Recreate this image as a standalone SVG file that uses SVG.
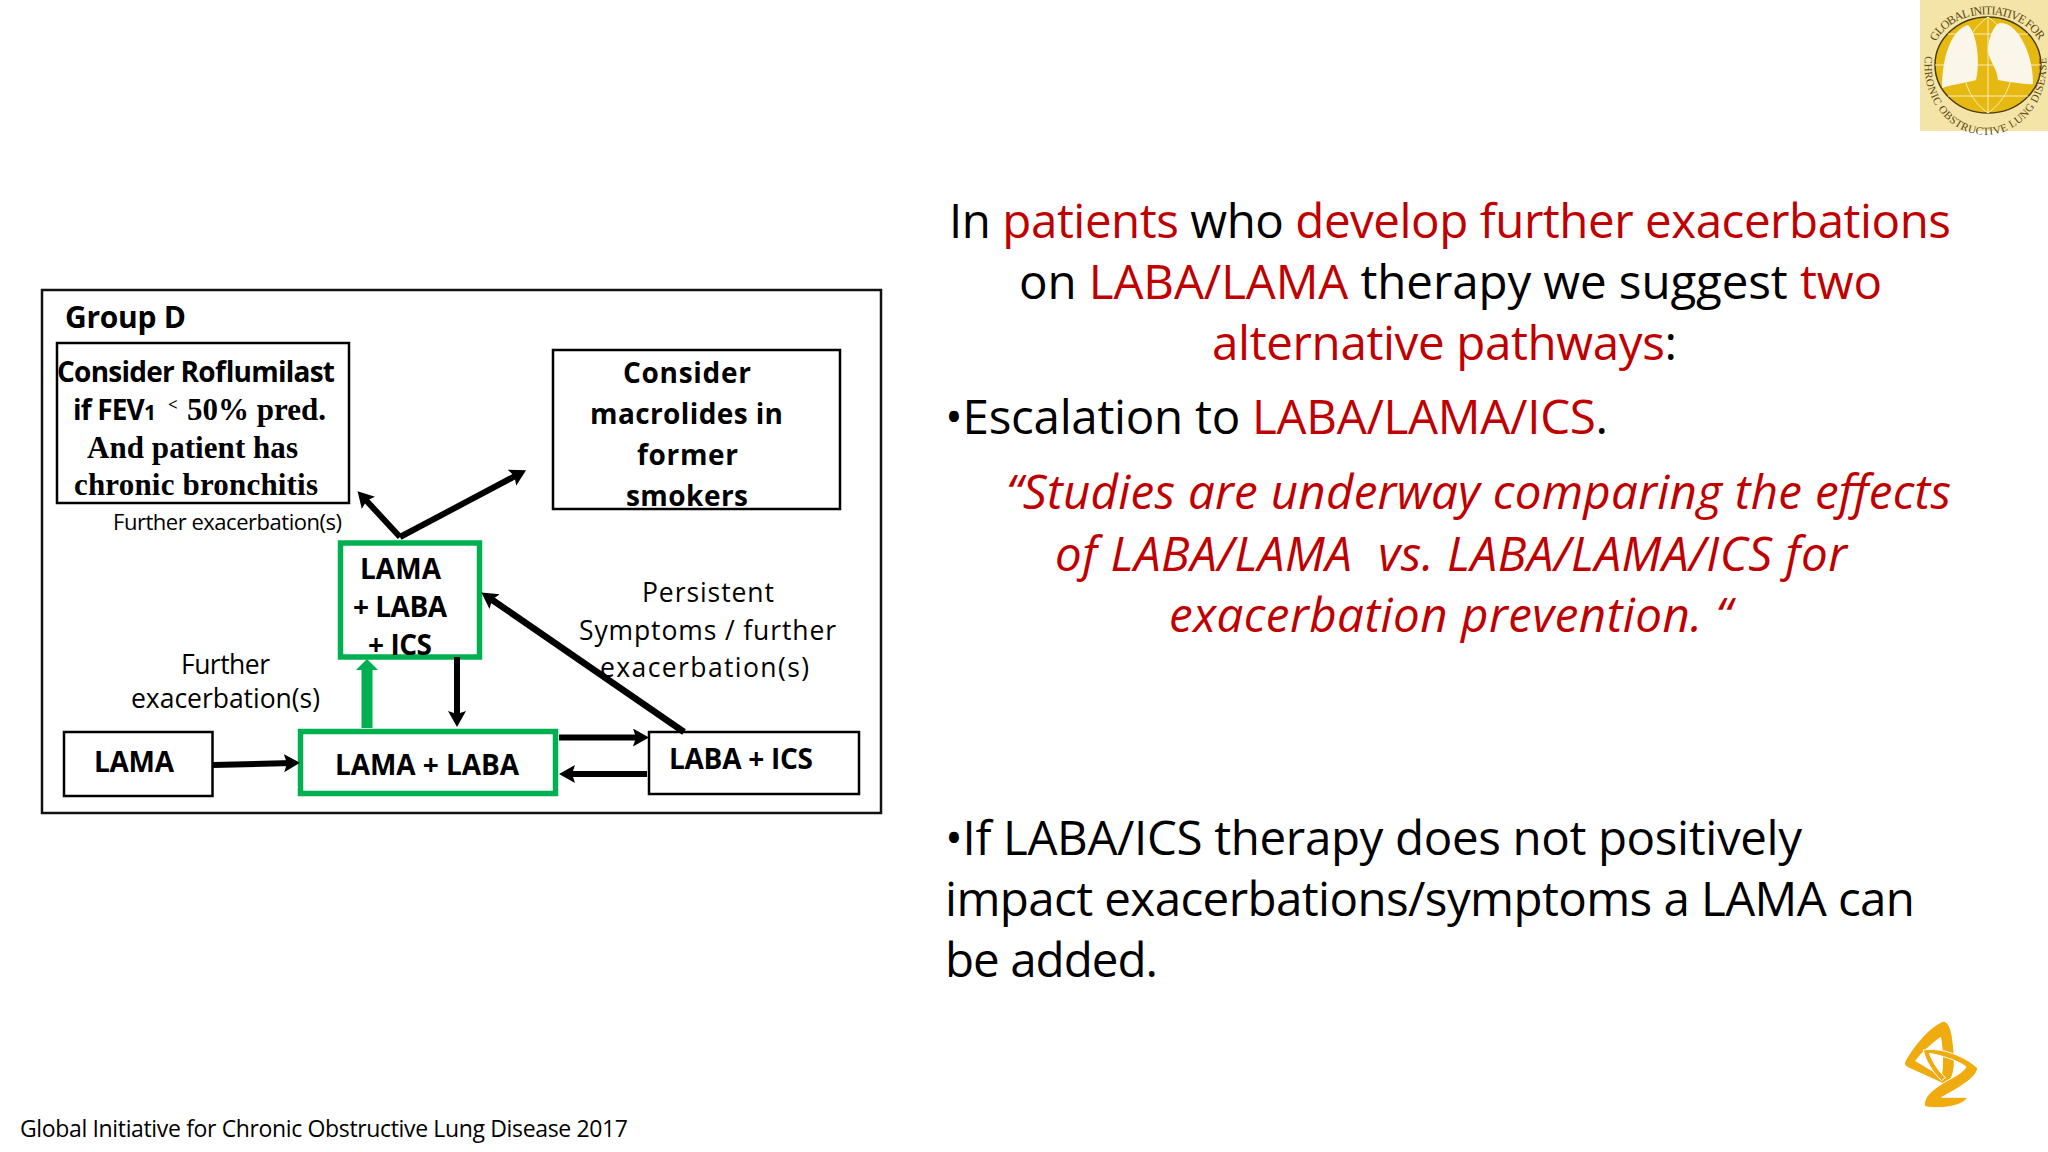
<svg xmlns="http://www.w3.org/2000/svg" xmlns:xlink="http://www.w3.org/1999/xlink" width="2048" height="1152" viewBox="0 0 2048 1152">
<style>
text{font-family:"Open Sans","Noto Sans","Liberation Sans",sans-serif;fill:#000}
.box{fill:#fff;stroke:#000;stroke-width:2.5}
.gbox{fill:#fff;stroke:#00b050;stroke-width:5.5}
.b{font-weight:700;font-size:28px}
.s{font-weight:700;font-size:31px;font-family:"Liberation Serif",serif}
.l{font-size:26.5px}
.ml{font-size:47.5px}
.q{font-size:47.5px;font-style:italic;fill:#c00000}
.r{fill:#c00000}
.c{stroke:#000;stroke-width:6;fill:none;marker-end:url(#a)}
.t{font-family:"Liberation Serif",serif;font-size:12px;fill:#5a4a10}
.grid{stroke:#f8eeb8;stroke-width:1;fill:none}
.az{fill:#efab0f}
</style>
<defs>
<marker id="a" markerUnits="userSpaceOnUse" markerWidth="22" markerHeight="22" refX="8" refY="9" orient="auto"><path d="M0 0L16 9L0 18L3 9Z" fill="#000"/></marker>
<marker id="g" markerUnits="userSpaceOnUse" markerWidth="24" markerHeight="24" refX="2" refY="11" orient="auto"><path d="M0 0L11 11L0 22Z" fill="#00b050"/></marker>
<path id="top" d="M1936 42C1954 6 2018 4 2040 42"/>
<path id="bot" d="M1925 56A61 70 0 1 0 2046 56"/>
</defs>
<rect width="2048" height="1152" fill="#fff"/>

<g id="group-d">
<rect x="42" y="290" width="839" height="523" fill="#fff" stroke="#111" stroke-width="2.5"/>
<text x="65" y="328" font-size="30" font-weight="700" textLength="121">Group D</text>
</g>

<g id="node-roflumilast">
<rect class="box" x="57" y="343" width="292" height="160"/>
<text class="b" x="57" y="382" textLength="278">Consider Roflumilast</text>
<text class="b" x="73" y="420" textLength="83">if FEV<tspan font-size="21">1</tspan></text>
<text class="s" x="168" y="410" style="font-size:17px">&lt;</text>
<text class="s" x="187" y="420" textLength="139">50% pred.</text>
<text class="s" x="87" y="458" textLength="211">And patient has</text>
<text class="s" x="74" y="495" textLength="244">chronic bronchitis</text>
</g>
<g id="node-macrolides">
<rect class="box" x="553" y="350" width="287" height="159"/>
<text class="b" x="623" y="383" textLength="128">Consider</text>
<text class="b" x="590" y="424" textLength="193">macrolides in</text>
<text class="b" x="637" y="465" textLength="101">former</text>
<text class="b" x="626" y="506" textLength="122">smokers</text>
</g>
<g id="node-triple">
<rect class="gbox" x="340.500" y="543" width="139" height="114"/>
<text class="b" x="360" y="579" textLength="81">LAMA</text>
<text class="b" x="353" y="617" textLength="94">+ LABA</text>
<text class="b" x="368" y="655" textLength="64">+ ICS</text>
</g>
<g id="node-lama">
<rect class="box" x="64" y="732" width="148.500" height="64"/>
<text class="b" x="94" y="772" textLength="80">LAMA</text>
</g>
<g id="node-lama-laba">
<rect class="gbox" x="300.500" y="731.500" width="255" height="62"/>
<text class="b" x="335" y="775" textLength="184">LAMA + LABA</text>
</g>
<g id="node-laba-ics">
<rect class="box" x="649" y="732" width="210" height="62"/>
<text class="b" x="669" y="769" textLength="144">LABA + ICS</text>
</g>

<g id="connectors">
<path class="c" d="M400 537L363 497"/>
<path class="c" d="M400 537L519 474"/>
<path d="M367 728V668" stroke="#00b050" stroke-width="11" fill="none" marker-end="url(#g)"/>
<path class="c" d="M457 657V719"/>
<path class="c" style="stroke-width:6.500" d="M684 732L488 597"/>
<path class="c" d="M213 765L292 763"/>
<path class="c" d="M559 737.500L641 737.500"/>
<path class="c" d="M647 774L567 774"/>
</g>

<g id="labels">
<text x="113" y="530" font-size="22" textLength="229">Further exacerbation(s)</text>
<text class="l" x="181" y="674" textLength="89">Further</text>
<text class="l" x="131" y="708" textLength="189">exacerbation(s)</text>
<text class="l" x="642" y="602" textLength="132">Persistent</text>
<text class="l" x="579" y="640" textLength="257">Symptoms / further</text>
<text class="l" x="600" y="677" textLength="209">exacerbation(s)</text>
<text x="20" y="1137" font-size="23" textLength="608">Global Initiative for Chronic Obstructive Lung Disease 2017</text>
</g>

<g id="body">
<text class="ml" x="949" y="238" textLength="1002">In <tspan class="r">patients</tspan> who <tspan class="r">develop further exacerbations</tspan></text>
<text class="ml" x="1019" y="299" textLength="863">on <tspan class="r">LABA/LAMA</tspan> therapy we suggest <tspan class="r">two</tspan></text>
<text class="ml" x="1212" y="360" textLength="465"><tspan class="r">alternative pathways</tspan>:</text>
<text class="ml" x="945" y="434" textLength="663">•Escalation to <tspan class="r">LABA/LAMA/ICS</tspan>.</text>
<text class="q" x="1006" y="509" textLength="945">“Studies are underway comparing the effects</text>
<text class="q" x="1055" y="571" textLength="792" xml:space="preserve">of LABA/LAMA  vs. LABA/LAMA/ICS for</text>
<text class="q" x="1169" y="632" textLength="563">exacerbation prevention. “</text>
<text class="ml" x="945" y="855" textLength="857">•If LABA/ICS therapy does not positively</text>
<text class="ml" x="945" y="916" textLength="970">impact exacerbations/symptoms a LAMA can</text>
<text class="ml" x="945" y="977" textLength="213">be added.</text>
</g>

<g id="gold-logo">
<rect x="1920" y="0" width="128" height="131" fill="#f4e4a8"/>
<ellipse cx="1988" cy="65" rx="53" ry="48" fill="#e6b912" stroke="#4a3a08" stroke-width="1.500"/>
<path class="grid" d="M1935 65H2041M1988 17V113M1988 17C1955 40 1955 90 1988 113M1988 17C2021 40 2021 90 1988 113M1948 34H2028M1948 96H2028"/>
<path d="M1968 25C1950 30 1942 60 1942 88C1955 84 1970 82 1976 80C1980 65 1978 35 1968 25Z" fill="#fbf6ea"/>
<path d="M2000 23C1992 25 1987 45 1988 52C1990 62 1997 68 1998 80C2012 82 2025 85 2033 84C2034 60 2020 22 2000 23Z" fill="#fbf6ea"/>
<text class="t"><textPath xlink:href="#top" href="#top" textLength="122">GLOBAL INITIATIVE FOR</textPath></text>
<text class="t" style="font-size:11px"><textPath xlink:href="#bot" href="#bot" textLength="222">CHRONIC OBSTRUCTIVE LUNG DISEASE</textPath></text>
</g>

<g id="star-logo" transform="translate(1880 1010) scale(.3333)">
<path class="az" fill-rule="evenodd" d="M190 35C205 35 216 60 220 120C224 170 222 205 195 222L85 172C73 166 73 160 80 148C105 105 150 50 190 35ZM183 80C155 100 125 125 105 153L185 200C192 170 190 120 183 80Z"/>
<path class="az" stroke="#fff" stroke-width="3" d="M130 120C180 110 260 140 293 175C290 205 225 240 185 262L262 262C255 285 190 300 135 290C125 265 160 235 205 210C235 195 255 180 258 170C230 150 180 135 148 130C155 150 175 185 197 203L185 212C160 190 135 150 130 120Z"/>
</g>
</svg>
